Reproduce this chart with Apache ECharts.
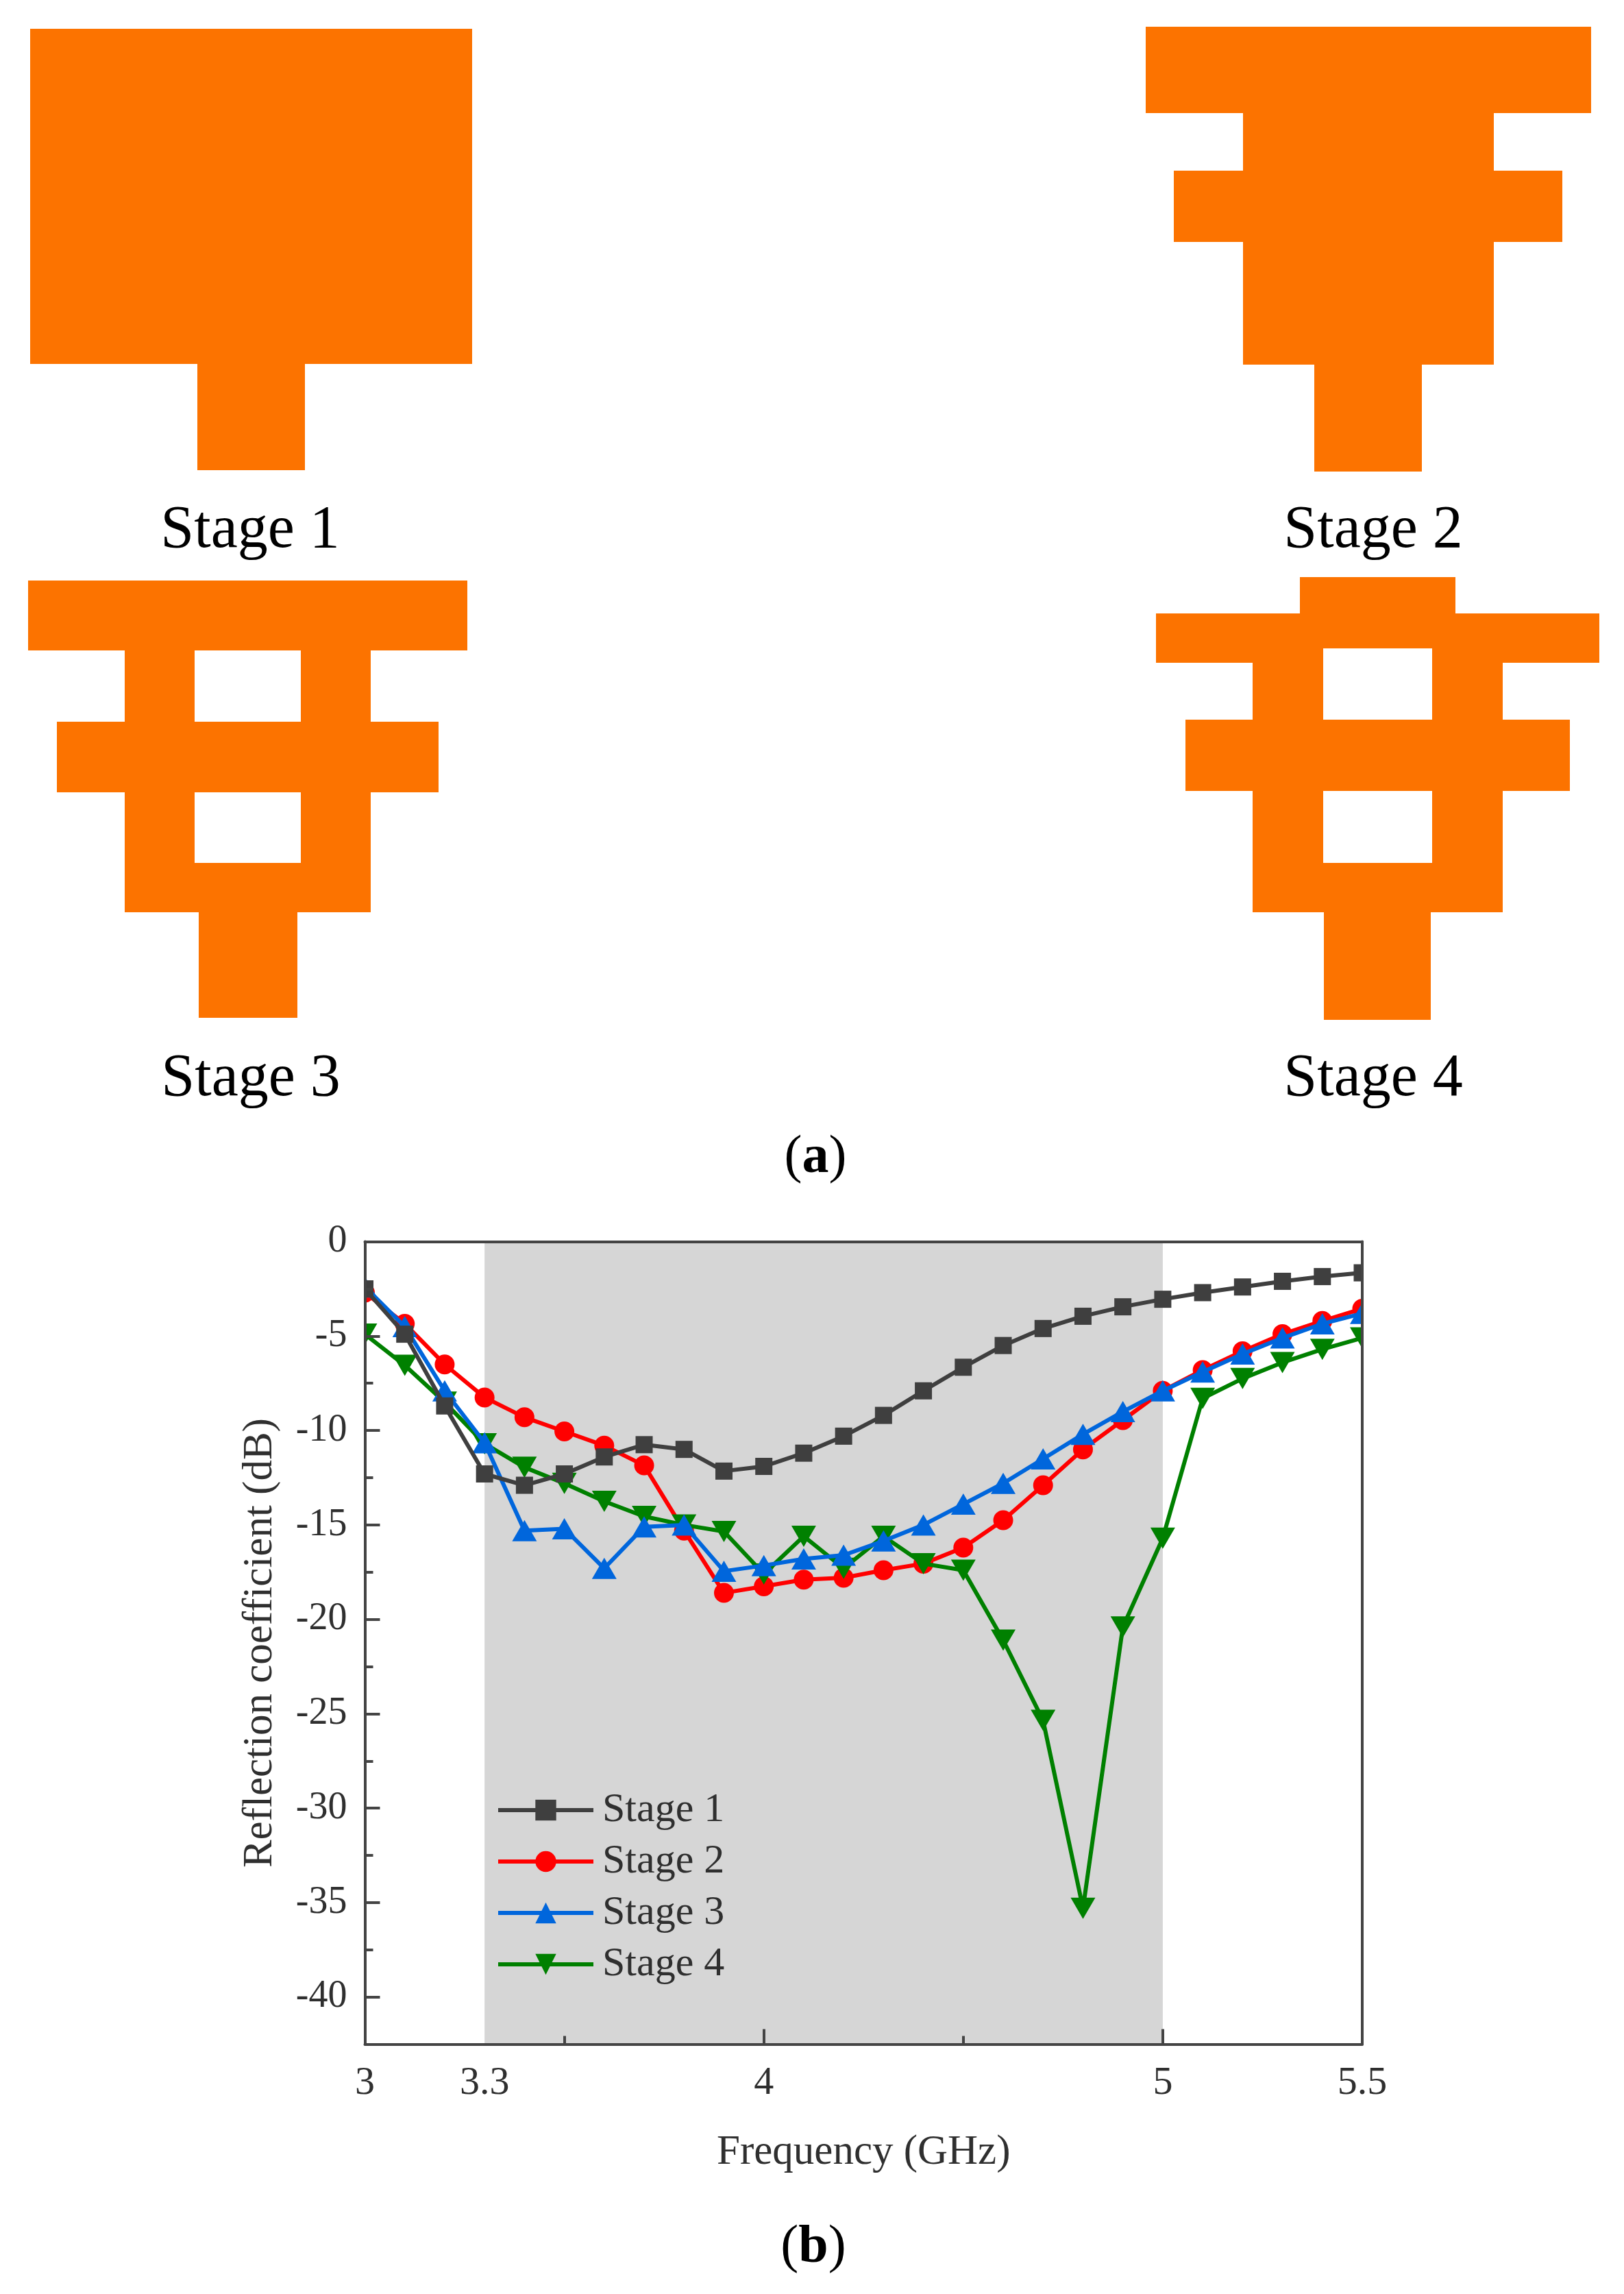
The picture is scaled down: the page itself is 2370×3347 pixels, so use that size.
<!DOCTYPE html>
<html><head><meta charset="utf-8">
<style>html,body{margin:0;padding:0;background:#fff}#c{width:2370px;height:3347px}</style>
<script src="https://cdn.jsdelivr.net/npm/echarts@6/dist/echarts.min.js"></script>
</head><body><div id="c"></div>
<script>
const frequency = [3.0,3.1,3.2,3.3,3.4,3.5,3.6,3.7,3.8,3.9,4.0,4.1,4.2,4.3,4.4,4.5,4.6,4.7,4.8,4.9,5.0,5.1,5.2,5.3,5.4,5.5];
const stage1 = [-2.5,-4.9,-8.7,-12.3,-12.9,-12.3,-11.4,-10.75,-11.0,-12.15,-11.9,-11.2,-10.3,-9.2,-7.9,-6.65,-5.5,-4.6,-3.95,-3.45,-3.05,-2.7,-2.4,-2.1,-1.85,-1.65];
const stage2 = [-2.7,-4.35,-6.5,-8.25,-9.3,-10.05,-10.8,-11.85,-15.3,-18.6,-18.25,-17.9,-17.8,-17.4,-17.05,-16.2,-14.75,-12.9,-11.0,-9.45,-7.9,-6.8,-5.8,-4.9,-4.2,-3.55];
const stage3 = [-2.4,-4.5,-7.9,-10.65,-15.3,-15.2,-17.3,-15.1,-15.0,-17.45,-17.15,-16.8,-16.6,-15.85,-15.0,-13.9,-12.8,-11.5,-10.2,-9.0,-7.9,-6.9,-5.95,-5.1,-4.35,-3.8];
const stage4 = [-4.9,-6.55,-8.5,-10.7,-11.95,-12.8,-13.75,-14.55,-15.0,-15.35,-17.6,-15.6,-17.3,-15.6,-17.05,-17.4,-21.1,-25.35,-35.3,-20.4,-15.7,-8.3,-7.25,-6.4,-5.7,-5.1];
const seriesNames = ['Stage 1','Stage 2','Stage 3','Stage 4'];
const xTickLabels = [3,3.3,4,5,5.5];
const xMajorTicks = [4,5];
const xMinorTicks = [3.5,4.5];
const yTickLabels = [0,-5,-10,-15,-20,-25,-30,-35,-40];
const yMinorTicks = [-2.5,-7.5,-12.5,-17.5,-22.5,-27.5,-32.5,-37.5,-42.5];
const band = [3.3,5];
const xName = 'Frequency (GHz)';
const yName = 'Reflection coefficient (dB)';

// Antenna layouts of panel (a), as [x0, y0, x1, y1] rectangles on the page-sized diagram axes
const antennaCopper = [
  [44,42,689,531],[288,531,445,686],
  [1672,39,2322,165],[1814,165,2180,532],[1713,249,2280,353],[1918,532,2075,688],
  [41,847,682,949],[182,949,541,1331],[83,1053,640,1156],[290,1331,434,1485],
  [1897,842,2124,895],[1687,895,2334,967],[1828,967,2193,1331],[1730,1050,2291,1154],[1932,1331,2088,1488]
];
const antennaSlots = [
  [284,949,439,1053],[284,1156,439,1259],
  [1931,946,2090,1050],[1931,1154,2090,1259]
];
// White margins beside the plot frame, so markers on the first and last frequency are cut at the frame
const frameMargins = [[510,1814,531,1960],[1990,1814,2012,2010]];

const chart = echarts.init(document.getElementById('c'));
const SERIF = '"Liberation Serif", serif';
const AX = '#444444';
const TXT = '#2f2f2f';
const zip = ys => frequency.map((f,i)=>[f,ys[i]]);
const rectItem = color => (params, api) => {
  const a = api.coord([api.value(0),api.value(1)]);
  const b = api.coord([api.value(2),api.value(3)]);
  return {type:'rect',shape:{x:a[0],y:a[1],width:b[0]-a[0],height:b[1]-a[1]},style:{fill:color}};
};
const lineSeries = (name, ys, color, symbol, size, z, rotate) => ({
  name, type:'line', xAxisIndex:1, yAxisIndex:1, data:zip(ys), z,
  symbol, symbolSize:size, symbolRotate:rotate||0, clip:true, silent:true,
  lineStyle:{color,width:6}, itemStyle:{color}, animation:false
});
const caption = (text,x,y,size) => ({type:'text',style:{text,x,y,font:size+'px '+SERIF,fill:'#000',textAlign:'center',textVerticalAlign:'middle'}});

chart.setOption({
  animation:false,
  backgroundColor:'#ffffff',
  grid:[
    {left:0,top:0,width:2370,height:3347,show:false},
    {left:532.5,top:1811.6,width:1455.5,height:1171,show:false}
  ],
  xAxis:[
    {gridIndex:0,type:'value',min:0,max:2370,show:false},
    {gridIndex:1,type:'value',min:3,max:5.5,position:'bottom',z:12,splitLine:{show:false},
      name:xName,nameLocation:'middle',nameGap:128,nameTextStyle:{fontFamily:SERIF,fontSize:61,color:TXT},
      axisLine:{onZero:false,lineStyle:{color:AX,width:4}},
      axisTick:{customValues:xMajorTicks,inside:true,length:22,lineStyle:{color:AX,width:4}},
      axisLabel:{customValues:xTickLabels,fontFamily:SERIF,fontSize:58,color:TXT,margin:28}},
    {gridIndex:1,type:'value',min:3,max:5.5,position:'top',z:12,splitLine:{show:false},
      axisLine:{onZero:false,lineStyle:{color:AX,width:4}},axisTick:{show:false},axisLabel:{show:false}},
    {gridIndex:1,type:'value',min:3,max:5.5,position:'bottom',z:12,splitLine:{show:false},
      axisLine:{show:false,onZero:false},
      axisTick:{customValues:xMinorTicks,inside:true,length:12,lineStyle:{color:AX,width:4}},axisLabel:{show:false}}
  ],
  yAxis:[
    {gridIndex:0,type:'value',min:0,max:3347,inverse:true,show:false},
    {gridIndex:1,type:'value',min:-42.5,max:0,position:'left',z:12,splitLine:{show:false},
      name:yName,nameLocation:'middle',nameGap:122,nameRotate:90,nameTextStyle:{fontFamily:SERIF,fontSize:61,color:TXT},
      axisLine:{onZero:false,lineStyle:{color:AX,width:4}},
      axisTick:{customValues:yTickLabels,inside:true,length:22,lineStyle:{color:AX,width:4}},
      axisLabel:{customValues:yTickLabels,fontFamily:SERIF,fontSize:56,color:TXT,margin:26,padding:[8,0,0,0]}},
    {gridIndex:1,type:'value',min:-42.5,max:0,position:'right',z:12,splitLine:{show:false},
      axisLine:{onZero:false,lineStyle:{color:AX,width:4}},axisTick:{show:false},axisLabel:{show:false}},
    {gridIndex:1,type:'value',min:-42.5,max:0,position:'left',z:12,splitLine:{show:false},
      axisLine:{show:false,onZero:false},
      axisTick:{customValues:yMinorTicks,inside:true,length:12,lineStyle:{color:AX,width:4}},axisLabel:{show:false}}
  ],
  legend:{
    data:seriesNames, orient:'vertical', left:724, top:2611, itemWidth:139, itemHeight:38, itemGap:15,
    textStyle:{fontFamily:SERIF,fontSize:60,color:TXT,padding:[0,0,0,8]}, padding:0, selectedMode:false,
    lineStyle:{width:6}
  },
  series:[
    {type:'custom',name:'Antenna copper',xAxisIndex:0,yAxisIndex:0,data:antennaCopper,renderItem:rectItem('#fc7300'),silent:true,z:1},
    {type:'custom',name:'Antenna slots',xAxisIndex:0,yAxisIndex:0,data:antennaSlots,renderItem:rectItem('#ffffff'),silent:true,z:2},
    {type:'custom',name:'Frame margins',xAxisIndex:0,yAxisIndex:0,data:frameMargins,renderItem:rectItem('#ffffff'),silent:true,z:11},
    Object.assign(lineSeries(seriesNames[0],stage1,'#3f3f3f','rect',25,10),{
      markArea:{silent:true,z:1,itemStyle:{color:'#d6d6d6'},data:[[{xAxis:band[0]},{xAxis:band[1]}]]}
    }),
    lineSeries(seriesNames[1],stage2,'#ff0000','circle',29,6),
    lineSeries(seriesNames[2],stage3,'#0066dc','triangle',[36,31],8),
    lineSeries(seriesNames[3],stage4,'#008000','triangle',[36,31],7,180)
  ],
  graphic:[
    caption('Stage 1',365,775,88),
    caption('Stage 2',2004,775,88),
    caption('Stage 3',366,1575,88),
    caption('Stage 4',2004,1575,88),
    {type:'text',style:{text:'({b|a})',x:1190,y:1690,textAlign:'center',textVerticalAlign:'middle',font:'78px '+SERIF,fill:'#000',rich:{b:{font:'bold 78px '+SERIF,fill:'#000'}}}},
    {type:'text',style:{text:'({b|b})',x:1187,y:3280,textAlign:'center',textVerticalAlign:'middle',font:'78px '+SERIF,fill:'#000',rich:{b:{font:'bold 78px '+SERIF,fill:'#000'}}}}
  ]
});
</script></body></html>
